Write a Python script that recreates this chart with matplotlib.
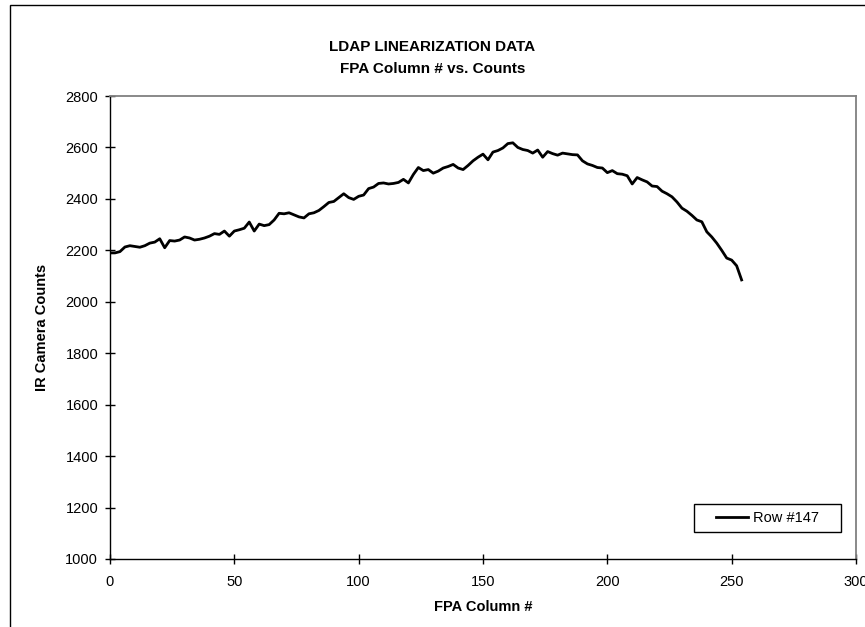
import numpy as np
import matplotlib
matplotlib.use('Agg')
import matplotlib.pyplot as plt
from matplotlib.patches import Rectangle

plt.rcParams['font.family'] = ['Liberation Sans', 'DejaVu Sans']

# FPA column number (every second column)
columns = np.arange(0, 255, 2)
# IR camera counts, row #147
counts = [2190, 2190, 2195, 2213, 2218, 2215, 2212, 2218, 2228, 2232,
          2245, 2210, 2238, 2236, 2240, 2252, 2248, 2240, 2243, 2248,
          2255, 2265, 2262, 2275, 2255, 2275, 2280, 2286, 2310, 2275,
          2302, 2296, 2300, 2318, 2344, 2342, 2346, 2338, 2330, 2326,
          2342, 2346, 2355, 2370, 2386, 2390, 2405, 2420, 2405, 2398,
          2410, 2415, 2440, 2446, 2460, 2462, 2458, 2460, 2464, 2476,
          2462, 2495, 2522, 2510, 2514, 2500, 2508, 2520, 2526, 2534,
          2520, 2514, 2530, 2548, 2562, 2574, 2552, 2582, 2588, 2598,
          2615, 2618, 2600, 2592, 2588, 2578, 2590, 2562, 2584, 2576,
          2570, 2578, 2575, 2572, 2571, 2548, 2536, 2530, 2522, 2520,
          2502, 2510, 2498, 2496, 2490, 2458, 2483, 2474, 2466, 2450,
          2448, 2430, 2420, 2408, 2388, 2364, 2352, 2336, 2318, 2311,
          2272, 2252, 2228, 2200, 2170, 2162, 2140, 2085]

fig = plt.figure(figsize=(8.65, 6.27), dpi=100)
ax = fig.add_axes([110 / 865, 1 - 559 / 627, (856 - 110) / 865, (559 - 96) / 627])

ax.plot(columns, counts, color='black', linewidth=2, label='Row #147')

ax.set_xlim(0, 300)
ax.set_ylim(1000, 2800)
ax.set_xticks(range(0, 301, 50))
ax.set_yticks(range(1000, 2801, 200))
ax.tick_params(direction='inout', length=7, width=1, labelsize=10.5, colors='black')
ax.tick_params(axis='x', pad=8)
ax.tick_params(axis='y', pad=5)

for s in ['left', 'bottom']:
    ax.spines[s].set_color('black')
    ax.spines[s].set_linewidth(1)
for s in ['top', 'right']:
    ax.spines[s].set_color('#808080')
    ax.spines[s].set_linewidth(1.3)

ax.set_xlabel('FPA Column #', fontsize=10.5, fontweight='bold', labelpad=8)
ax.set_ylabel('IR Camera Counts', fontsize=10.5, fontweight='bold', labelpad=12)

fig.text(0.5, 1 - 47 / 627, 'LDAP LINEARIZATION DATA', ha='center', va='center',
         fontsize=11, fontweight='bold')
fig.text(0.5, 1 - 69 / 627, 'FPA Column # vs. Counts', ha='center', va='center',
         fontsize=11, fontweight='bold')

# legend: entries centred in a hand-drawn box (Excel style padding)
box_x0, box_x1, box_y0, box_y1 = 694, 841, 504, 532
leg = ax.legend(loc='center',
                bbox_to_anchor=((box_x0 + box_x1) / 2 / 865, 1 - (box_y0 + box_y1) / 2 / 627),
                bbox_transform=fig.transFigure, frameon=False, fontsize=10.5,
                handlelength=2.2, handletextpad=0.4, borderpad=0)
leg.set_zorder(6)
ax.add_patch(Rectangle((box_x0 / 865, 1 - box_y1 / 627), (box_x1 - box_x0) / 865,
                       (box_y1 - box_y0) / 627, transform=fig.transFigure,
                       facecolor='white', edgecolor='black', linewidth=1,
                       zorder=5, clip_on=False))

# chart area border (right and bottom edges fall outside the image)
fig.patches.append(Rectangle((10 / 865, -0.1), 1.2, 1.1 - 5 / 627,
                             transform=fig.transFigure, fill=False,
                             edgecolor='black', linewidth=1))

fig.savefig('out.png', dpi=100)
